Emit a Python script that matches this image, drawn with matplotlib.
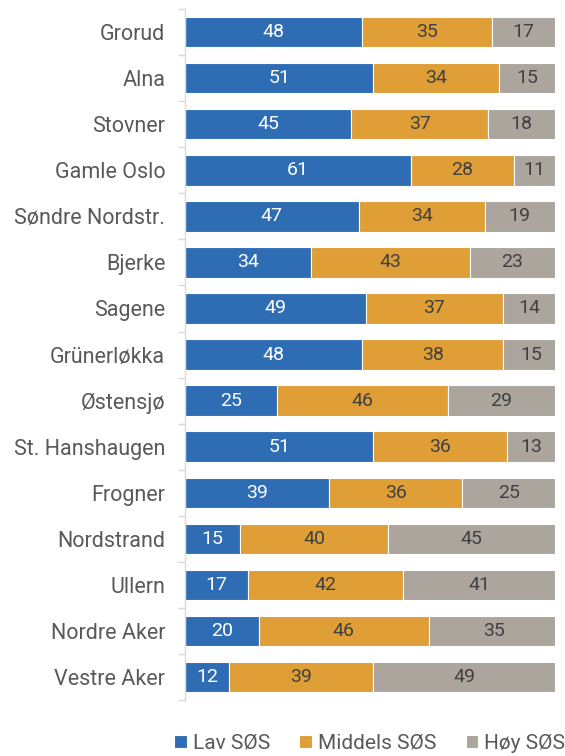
import numpy as np
import matplotlib
matplotlib.use("Agg")
import matplotlib.pyplot as plt

districts = [
    "Grorud", "Alna", "Stovner", "Gamle Oslo", "Søndre Nordstr.", "Bjerke",
    "Sagene", "Grünerløkka", "Østensjø", "St. Hanshaugen", "Frogner",
    "Nordstrand", "Ullern", "Nordre Aker", "Vestre Aker",
]
lav = [48, 51, 45, 61, 47, 34, 49, 48, 25, 51, 39, 15, 17, 20, 12]
middels = [35, 34, 37, 28, 34, 43, 37, 38, 46, 36, 36, 40, 42, 46, 39]
hoy = [17, 15, 18, 11, 19, 23, 14, 15, 29, 13, 25, 45, 41, 35, 49]

series = [
    ("Lav SØS", lav, "#2E6DB4", "white"),
    ("Middels SØS", middels, "#E09E36", "#404040"),
    ("Høy SØS", hoy, "#ABA59E", "#404040"),
]

plt.rcParams["font.family"] = ["Roboto", "DejaVu Sans"]

fig = plt.figure(figsize=(5.65, 7.56), dpi=100)
ax = fig.add_axes([0.327, 0.074, 0.655, 0.914])

y = np.arange(len(districts))
left = np.zeros(len(districts))
for name, vals, color, txt in series:
    vals = np.array(vals, dtype=float)
    bars = ax.barh(y, vals, left=left, height=0.66, color=color,
                   edgecolor="white", linewidth=0.8, label=name)
    for b, v in zip(bars, vals):
        ax.text(b.get_x() + b.get_width() / 2, b.get_y() + b.get_height() / 2,
                f"{int(v)}", ha="center", va="center", color=txt, fontsize=14)
    left += vals

ax.set_xlim(0, 100)
ax.set_ylim(len(districts) - 0.5, -0.5)
ax.set_yticks(y)
ax.set_yticklabels(districts, fontsize=15.5, color="#595959")
ax.tick_params(axis="y", which="major", length=0, pad=14)
ax.set_yticks(np.arange(-0.5, len(districts)), minor=True)
ax.tick_params(axis="y", which="minor", length=5, color="#D9D9D9", width=1)
ax.set_xticks([])
for s in ["top", "right", "bottom"]:
    ax.spines[s].set_visible(False)
ax.spines["left"].set_color("#D9D9D9")
ax.spines["left"].set_linewidth(1)

ax.legend(loc="lower center", bbox_to_anchor=(0.5, -0.091), ncol=3, frameon=False,
          fontsize=15, handlelength=0.6, handleheight=0.6, handletextpad=0.3,
          columnspacing=1.4, labelcolor="#595959", borderpad=0)

fig.savefig("out.png", dpi=100)
